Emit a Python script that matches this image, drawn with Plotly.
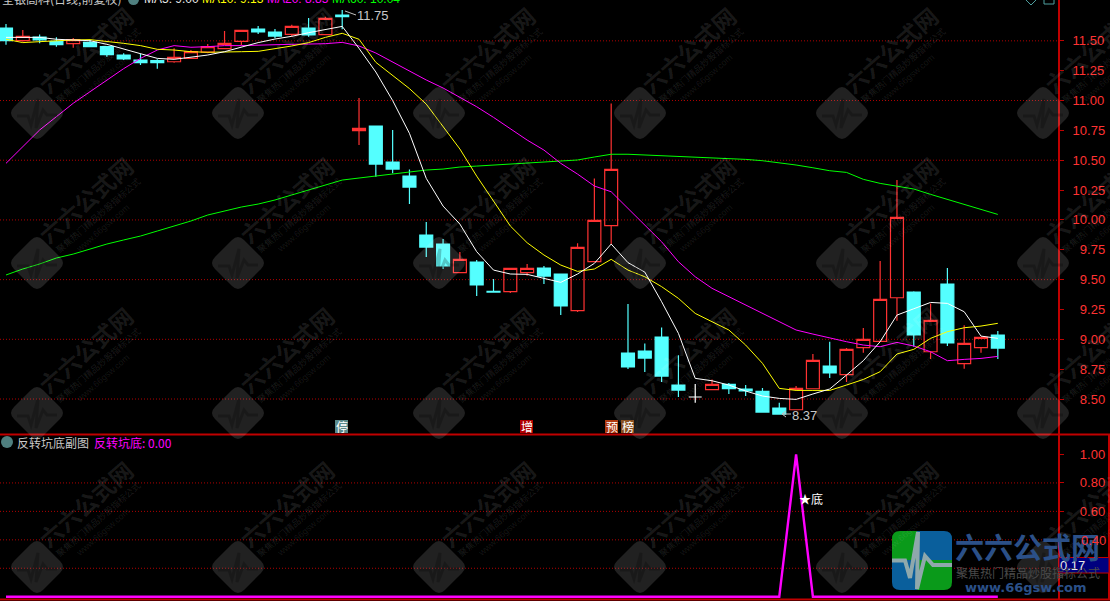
import plotly.graph_objects as go

W, H = 1110, 601
AXIS_X = 1058

# ---------- data ----------
idx = list(range(60))
open_ = [11.607,11.501,11.532,11.496,11.476,11.487,11.451,11.381,11.339,11.334,
         11.325,11.353,11.406,11.434,11.496,11.599,11.574,11.554,11.607,11.552,
         11.716,10.748,10.786,10.485,10.367,9.873,9.798,9.558,9.647,9.402,
         9.399,9.558,9.597,9.547,9.240,9.650,9.952,8.885,8.902,9.019,
         8.617,None,8.578,8.623,8.584,8.564,8.424,8.410,8.586,8.776,
         8.704,8.930,8.983,9.348,9.396,8.896,9.463,8.796,8.930,9.036]
high = [11.641,11.591,11.552,11.529,11.524,11.507,11.457,11.395,11.390,11.345,
        11.437,11.423,11.473,11.582,11.588,11.624,11.599,11.635,11.691,11.702,
        11.758,11.021,10.786,10.753,10.423,9.982,9.840,9.731,9.664,9.505,
        9.594,9.630,9.614,9.547,9.804,10.348,10.976,9.295,8.966,9.100,
        8.866,None,8.664,8.634,8.617,8.592,8.469,8.609,8.877,8.980,
        8.927,9.094,9.656,10.334,9.402,9.301,9.597,9.117,9.016,9.069]
low = [11.468,11.493,11.479,11.451,11.443,11.446,11.367,11.339,11.298,11.267,
       11.317,11.353,11.395,11.434,11.465,11.557,11.521,11.535,11.535,11.552,
       11.596,10.628,10.362,10.390,10.133,9.689,9.589,9.558,9.362,9.390,
       9.388,9.533,9.463,9.203,9.228,9.650,9.798,8.751,8.726,8.642,
       8.517,None,8.578,8.542,8.525,8.391,8.374,8.410,8.586,8.676,
       8.642,8.888,8.983,9.156,8.938,8.835,8.944,8.754,8.888,8.835]
close = [11.501,11.538,11.507,11.468,11.510,11.451,11.384,11.348,11.317,11.317,
         11.362,11.409,11.451,11.479,11.588,11.574,11.540,11.621,11.549,11.688,
         11.702,10.767,10.468,10.426,10.275,9.773,9.614,9.670,9.455,9.396,
         9.594,9.594,9.530,9.279,9.770,9.996,10.423,8.768,8.843,8.692,
         8.575,None,8.623,8.586,8.567,8.391,8.374,8.589,8.824,8.718,
         8.916,9.000,9.335,10.021,9.036,9.159,8.969,8.966,9.016,8.927]
doji_idx = [41]
doji_open = [8.517]
doji_high = [8.625]
doji_low = [8.469]
doji_close = [8.517]

ma5 = [11.529,11.529,11.529,11.513,11.507,11.501,11.471,11.432,11.395,11.353,
       11.345,11.362,11.381,11.409,11.448,11.485,11.515,11.538,11.568,11.596,
       11.621,11.437,11.239,11.000,10.725,10.348,10.116,9.965,9.734,9.580,
       9.547,9.544,9.510,9.477,9.547,9.636,9.798,9.642,9.563,9.315,
       9.050,8.673,8.653,8.617,8.567,8.525,8.505,8.497,8.542,8.584,
       8.701,8.821,8.980,9.203,9.256,9.309,9.301,9.231,9.027,9.008]
ma10 = [11.513,11.485,11.493,11.501,11.507,11.510,11.496,11.479,11.460,11.429,
        11.423,11.409,11.404,11.409,11.409,11.412,11.434,11.457,11.485,11.529,
        11.563,11.513,11.320,11.210,11.100,10.970,10.783,10.594,10.367,10.158,
        9.949,9.809,9.706,9.622,9.569,9.589,9.670,9.580,9.524,9.441,
        9.343,9.217,9.148,9.078,8.952,8.799,8.589,8.572,8.572,8.572,
        8.617,8.664,8.729,8.877,8.916,9.008,9.064,9.097,9.111,9.134]
ma20 = [10.474,10.614,10.753,10.865,10.977,11.074,11.172,11.267,11.353,11.423,
        11.460,11.446,11.451,11.460,11.460,11.465,11.471,11.471,11.473,11.476,
        11.487,11.457,11.398,11.322,11.247,11.172,11.105,11.029,10.948,10.859,
        10.767,10.669,10.585,10.474,10.384,10.284,10.236,10.097,9.957,9.817,
        9.650,9.524,9.427,9.357,9.282,9.217,9.148,9.078,9.044,9.011,
        8.980,8.952,8.938,8.974,8.944,8.896,8.821,8.832,8.840,8.857]
ma60 = [9.539,9.589,9.631,9.681,9.714,9.756,9.798,9.832,9.865,9.907,
        9.949,9.991,10.041,10.075,10.108,10.133,10.167,10.209,10.250,10.292,
        10.334,10.351,10.368,10.384,10.401,10.418,10.426,10.443,10.451,10.460,
        10.468,10.477,10.485,10.493,10.502,10.527,10.550,10.550,10.544,10.539,
        10.535,10.527,10.520,10.515,10.507,10.496,10.479,10.460,10.437,10.412,
        10.398,10.340,10.306,10.284,10.259,10.214,10.172,10.130,10.088,10.046]
signal = [0]*47 + [1] + [0]*12

price_ticks = [8.5,8.75,9.0,9.25,9.5,9.75,10.0,10.25,10.5,10.75,11.0,11.25,11.5]
price_grid = [8.5,9.0,9.5,10.0,10.5,11.0,11.5]
sub_ticks = [0.2,0.4,0.6,0.8,1.0]
sub_tick_labels = ["","","\u20070.60","\u20070.80","\u20071.00"]
sub_grid = [0.2,0.4,0.6,0.8]

# ---------- helpers (page pixels to paper fractions) ----------
def fx(x): return x / W
def fy(y): return 1 - y / H

def poly(points, close_it=True):
    s = "M " + " L ".join(f"{fx(x):.5f},{fy(y):.5f}" for x, y in points)
    return s + (" Z" if close_it else "")

RED = "#c00000"
TICK = "#ff3232"
UP = "#ff3232"
DOWN = "#54ffff"
CJK = "Noto Sans CJK SC"
shapes, anns = [], []

def note(x, y, text, color, size=12, xanchor="left", font=CJK, **kw):
    anns.append(dict(xref="paper", yref="paper", x=fx(x), y=fy(y), text=text, showarrow=False,
                     xanchor=xanchor, yanchor="middle", font=dict(color=color, size=size, family=font),
                     borderpad=0, borderwidth=0, **kw))

def pline(x0, y0, x1, y1, color, width=1):
    shapes.append(dict(type="line", xref="paper", yref="paper", x0=fx(x0), y0=fy(y0), x1=fx(x1), y1=fy(y1),
                       line=dict(color=color, width=width)))

# grid lines
for v in price_grid:
    shapes.append(dict(type="line", xref="x domain", yref="y", x0=0, x1=1, y0=v, y1=v, layer="below",
                       line=dict(color="#b00000", width=1, dash="1px,2px")))
for v in sub_grid:
    shapes.append(dict(type="line", xref="x domain", yref="y2", x0=0, x1=1, y0=v, y1=v, layer="below",
                       line=dict(color="#b00000", width=1, dash="1px,2px")))

# panel frame
pline(0, 434.5, W, 434.5, RED, 2)
pline(0, 599.5, W, 599.5, RED, 2)
pline(1109, 435, 1109, 600, RED, 2)

# watermarks
WM_X = [37, 238, 439, 640, 842, 1043]
WM_Y = [113, 263, 413, 567]
for cx in WM_X:
    for cy in WM_Y:
        r = 29
        rr = 6
        pts = (f"M {fx(cx-r+rr):.5f},{fy(cy-rr):.5f} L {fx(cx-rr):.5f},{fy(cy-r+rr):.5f} "
               f"Q {fx(cx):.5f},{fy(cy-r):.5f} {fx(cx+rr):.5f},{fy(cy-r+rr):.5f} "
               f"L {fx(cx+r-rr):.5f},{fy(cy-rr):.5f} Q {fx(cx+r):.5f},{fy(cy):.5f} {fx(cx+r-rr):.5f},{fy(cy+rr):.5f} "
               f"L {fx(cx+rr):.5f},{fy(cy+r-rr):.5f} Q {fx(cx):.5f},{fy(cy+r):.5f} {fx(cx-rr):.5f},{fy(cy+r-rr):.5f} "
               f"L {fx(cx-r+rr):.5f},{fy(cy+rr):.5f} Q {fx(cx-r):.5f},{fy(cy):.5f} {fx(cx-r+rr):.5f},{fy(cy-rr):.5f} Z")
        shapes.append(dict(type="path", xref="paper", yref="paper", path=pts,
                           fillcolor="rgba(255,255,255,0.13)", line=dict(width=0)))
        shapes.append(dict(type="path", xref="paper", yref="paper",
                           path=poly([(cx-20,cy+3),(cx-9,cy+3),(cx-6,cy+12),(cx+1,cy-14),(cx-1,cy+15),
                                      (cx+6,cy-3),(cx+10,cy+2),(cx+20,cy+2)], False),
                           line=dict(color="rgba(0,0,0,0.22)", width=3)))
        for dx, dy, txt, size, col, fam in [
                (48, -63, "<b>六六公式网</b>", 23, "rgba(255,255,255,0.10)", CJK),
                (61, -48, "聚焦热门精品炒股指标公式", 9, "rgba(255,255,255,0.11)", CJK),
                (66, -35, "www.66gsw.com", 9, "rgba(255,255,255,0.09)", "Liberation Sans")]:
            anns.append(dict(xref="paper", yref="paper", x=fx(cx+dx), y=fy(cy+dy), text=txt, showarrow=False,
                             xanchor="center", yanchor="middle", textangle=-41,
                             font=dict(size=size, color=col, family=fam)))

# price value box
shapes.append(dict(type="rect", xref="paper", yref="paper", x0=fx(1059), x1=fx(1109), y0=fy(557.5), y1=fy(573),
                   fillcolor="#00007f", line=dict(color=RED, width=1)))
note(1060, 565, "0.17", "#e8e8e8", 13, font="Liberation Sans")

# corner logo
LX0, LX1, LY0, LY1, MX, MY, R = 892, 952, 531, 590, 917, 560, 8
def corner_path(x0, y0, x1, y1, corner):
    c = {"tl": (x0, y0), "tr": (x1, y0), "br": (x1, y1), "bl": (x0, y1)}
    seq = ["tl", "tr", "br", "bl"]
    d = ""
    for k in seq:
        x, y = c[k]
        if k == corner:
            if k == "tl":
                d += f"M {fx(x):.5f},{fy(y+R):.5f} Q {fx(x):.5f},{fy(y):.5f} {fx(x+R):.5f},{fy(y):.5f} "
            elif k == "tr":
                d += f"L {fx(x-R):.5f},{fy(y):.5f} Q {fx(x):.5f},{fy(y):.5f} {fx(x):.5f},{fy(y+R):.5f} "
            elif k == "br":
                d += f"L {fx(x):.5f},{fy(y-R):.5f} Q {fx(x):.5f},{fy(y):.5f} {fx(x-R):.5f},{fy(y):.5f} "
            else:
                d += f"L {fx(x+R):.5f},{fy(y):.5f} Q {fx(x):.5f},{fy(y):.5f} {fx(x):.5f},{fy(y-R):.5f} "
        else:
            d += ("M " if not d else "L ") + f"{fx(x):.5f},{fy(y):.5f} "
    return d + "Z"
for (x0, y0, x1, y1, corner, col) in [(LX0, LY0, MX, MY, "tl", "#0a9a1a"), (MX, LY0, LX1, MY, "tr", "#0a5f9c"),
                                       (LX0, MY, MX, LY1, "bl", "#0a5f9c"), (MX, MY, LX1, LY1, "br", "#0a9a1a")]:
    shapes.append(dict(type="path", xref="paper", yref="paper", path=corner_path(x0, y0, x1, y1, corner),
                       fillcolor=col, line=dict(width=0)))
shapes.append(dict(type="path", xref="paper", yref="paper",
                   path=poly([(892,560.5),(905,560.5),(910,578),(918,532),(917,589),(925,556),(933,565),(952,565)], False),
                   line=dict(color="#8fa8ac", width=4)))
note(955, 546, "<b>六六公式网</b>", "#2b5088", 29)
note(956, 572, "聚焦热门精品炒股指标公式", "#4a4a4a", 12)
note(965, 587, "<b>www.66gsw.com</b>", "#2b5088", 13, font="DejaVu Sans")
note(1081, 540, "0.40", TICK, 13, font="Liberation Sans")

# header
note(2, -2, "全银高科(日线,前复权)", "#c8c8c8", 12)
shapes.append(dict(type="circle", xref="paper", yref="paper", x0=fx(128), x1=fx(139), y0=fy(-6), y1=fy(5),
                   fillcolor="#4f7f7f", line=dict(width=0)))
note(144, -1, "MA5: 9.00", "#e8e8e8", 12, font="Liberation Sans")
note(202, -1, "MA10: 9.13", "#ffff00", 12, font="Liberation Sans")
note(267, -1, "MA20: 8.85", "#ff00ff", 12, font="Liberation Sans")
note(332, -1, "MA60: 10.04", "#00ff00", 12, font="Liberation Sans")
shapes.append(dict(type="path", xref="paper", yref="paper",
                   path=poly([(1026,0),(1031,5),(1036,0)], False), line=dict(color="#4f9f9f", width=1)))
shapes.append(dict(type="rect", xref="paper", yref="paper", x0=fx(1044), x1=fx(1054), y0=fy(-3), y1=fy(4),
                   line=dict(color="#4f9f9f", width=1)))

# extreme markers
pline(345, 11, 356, 15, "#c0c0c0", 1)
note(357, 15.5, "11.75", "#c8c8c8", 13, font="Liberation Sans")
pline(782, 414, 791, 414, "#c0c0c0", 1)
pline(782, 414, 786, 411, "#c0c0c0", 1)
pline(782, 414, 786, 417, "#c0c0c0", 1)
note(792, 415.5, "8.37", "#c8c8c8", 13, font="Liberation Sans")

# badges
for x, ch, col in [(335, "停", "#5a8a8a"), (520, "增", "#b00000"), (605, "预", "#b03a10"), (621, "榜", "#8a5020")]:
    shapes.append(dict(type="rect", xref="paper", yref="paper", x0=fx(x), x1=fx(x+13), y0=fy(420), y1=fy(433),
                       fillcolor=col, line=dict(width=0)))
    note(x + 6.5, 426.5, ch, "#ffffff", 12, xanchor="center")

# sub panel header
shapes.append(dict(type="circle", xref="paper", yref="paper", x0=fx(1), x1=fx(13), y0=fy(436), y1=fy(448),
                   fillcolor="#4f7f7f", line=dict(width=0)))
note(17, 442.5, "反转坑底副图", "#c8c8c8", 12)
note(94, 442.5, "反转坑底: 0.00", "#ff00ff", 12)
note(799, 498, "★底", "#ffffff", 12)

# ---------- traces ----------
fig = go.Figure()
fig.add_trace(go.Candlestick(
    x=idx, open=open_, high=high, low=low, close=close, whiskerwidth=0, hoverinfo="skip",
    increasing=dict(line=dict(color=UP, width=1.2), fillcolor="rgba(0,0,0,0)"),
    decreasing=dict(line=dict(color=DOWN, width=1.2), fillcolor=DOWN),
    xaxis="x", yaxis="y", showlegend=False))
fig.add_trace(go.Candlestick(
    x=doji_idx, open=doji_open, high=doji_high, low=doji_low, close=doji_close, whiskerwidth=0, hoverinfo="skip",
    increasing=dict(line=dict(color="#ffffff", width=1.2), fillcolor="#ffffff"),
    decreasing=dict(line=dict(color="#ffffff", width=1.2), fillcolor="#ffffff"),
    xaxis="x", yaxis="y", showlegend=False))
for series, col in [(ma60, "#00ff00"), (ma20, "#ff00ff"), (ma10, "#ffff00"), (ma5, "#ffffff")]:
    fig.add_trace(go.Scatter(x=idx, y=series, mode="lines", line=dict(color=col, width=1),
                             xaxis="x", yaxis="y", hoverinfo="skip", showlegend=False))
fig.add_trace(go.Scatter(x=idx, y=signal, mode="lines", line=dict(color="#ff00ff", width=2.4),
                         xaxis="x", yaxis="y2", hoverinfo="skip", showlegend=False, cliponaxis=False))

price_labels = [("\u2007" if v < 10 else "") + f"{v:.2f}" for v in price_ticks]
axis_font = dict(color=TICK, size=13, family="Liberation Sans")
fig.update_layout(
    width=W, height=H, margin=dict(l=0, r=0, t=0, b=0),
    paper_bgcolor="#000000", plot_bgcolor="#000000", showlegend=False, boxgap=0.23, boxgroupgap=0,
    xaxis=dict(domain=[0, AXIS_X / W], range=[-0.357, 62.58], visible=False, rangeslider=dict(visible=False),
               anchor="y"),
    yaxis=dict(domain=[fy(434), 1], range=[8.207, 11.842], side="right", anchor="x", showgrid=False, zeroline=False,
               tickvals=price_ticks, ticktext=price_labels, ticks="outside", ticklen=4, tickcolor=RED, tickwidth=1,
               tickfont=axis_font, showline=True, linecolor=RED, linewidth=2, ticklabelstandoff=6),
    yaxis2=dict(domain=[fy(599), fy(435)], range=[-0.016, 1.137], side="right", anchor="x", showgrid=False,
                zeroline=False, tickvals=sub_ticks, ticktext=sub_tick_labels, ticks="outside", ticklen=4,
                tickcolor=RED, tickwidth=1, tickfont=axis_font, showline=True, linecolor=RED, linewidth=2,
                ticklabelstandoff=6),
    shapes=shapes, annotations=anns,
)
fig.write_html("out.html", config=dict(displayModeBar=False),
               post_script="document.body.style.margin='0';document.body.style.background='#000';document.body.style.overflow='hidden';")
